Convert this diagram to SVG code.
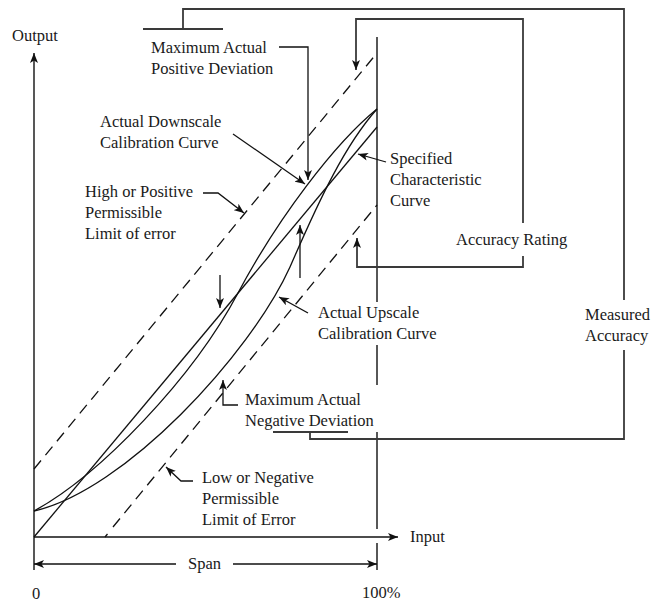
<svg xmlns="http://www.w3.org/2000/svg" width="652" height="602" viewBox="0 0 652 602">
  <defs>
    <style>
      text { font-family: "Liberation Serif", "Times New Roman", serif; font-size: 16.5px; fill: #1a1a1a; }
      .ax { stroke: #111; stroke-width: 1.4; fill: none; }
      .cv { stroke: #111; stroke-width: 1.3; fill: none; }
      .dash { stroke: #111; stroke-width: 1.3; fill: none; stroke-dasharray: 11 7; }
      .ld { stroke: #111; stroke-width: 1.3; fill: none; }
      .br { stroke: #3a3a3a; stroke-width: 1.8; fill: none; }
    </style>
    <marker id="ah" viewBox="0 0 10 8" refX="10" refY="4" markerWidth="10" markerHeight="8" orient="auto" markerUnits="userSpaceOnUse">
      <path d="M0,0 L10,4 L0,8 L2.5,4 z" fill="#111"/>
    </marker>
  </defs>
  <rect width="652" height="602" fill="#fff"/>

  <!-- calibration curves and limits -->
  <g id="curves">
    <path id="characteristic" class="cv" d="M34,537 L377,127"/>
    <path id="downscale" class="cv" d="M34,511 C100,475 193,378 238,293 C278,218 335,143 377,109"/>
    <path id="upscale" class="cv" d="M34,511 C124,491 250,355 290,267 C320,198 345,145 377,109"/>
    <path id="upper-limit" class="dash" d="M34,469 L377,53"/>
    <path id="lower-limit" class="dash" d="M113,527 L377,205"/>
    <path class="cv" d="M105,537 L107.5,534"/>
  </g>

  <g id="connectors">
    <!-- axes -->
    <path class="ax" d="M34,570 L34,53" marker-end="url(#ah)"/>
    <path class="ax" d="M34,537 L398,537" marker-end="url(#ah)"/>
    <path class="ax" d="M377,37 V302 M377,345 V385 M377,432 V529 M377,543 V570"/>
    <!-- span -->
    <path class="ax" d="M176,564 H34" marker-end="url(#ah)"/>
    <path class="ax" d="M233,564 H377" marker-end="url(#ah)"/>

    <!-- measured accuracy bracket -->
    <path class="br" d="M143,29 H223 M183,29 V9 H624 V300 M624,350 V439 H310 V432 M273,432 H348"/>
    <!-- accuracy rating bracket -->
    <path class="br" d="M523,223 V19 H356 V70" marker-end="url(#ah)"/>
    <path class="br" d="M523,256 V267 H357 V238" marker-end="url(#ah)"/>

    <!-- leaders -->
    <path class="ld" d="M279,47 H308 V180" marker-end="url(#ah)"/>
    <path class="ld" d="M233,134 L305,184" marker-end="url(#ah)"/>
    <path class="ld" d="M203,193 H218 L244,213" marker-end="url(#ah)"/>
    <path class="ld" d="M386,162 L358,154" marker-end="url(#ah)"/>
    <path class="ld" d="M308,313 L279,297" marker-end="url(#ah)"/>
    <path class="ld" d="M300,278 V225" marker-end="url(#ah)"/>
    <path class="ld" d="M220,275 V308" marker-end="url(#ah)"/>
    <path class="ld" d="M238,405 H223 V380" marker-end="url(#ah)"/>
    <path class="ld" d="M193,481 H181 L166,467" marker-end="url(#ah)"/>
  </g>

  <g id="output-label"><text x="12" y="41">Output</text></g>
  <g id="max-positive"><text x="151" y="53">Maximum Actual</text><text x="151" y="74">Positive Deviation</text></g>
  <g id="downscale-label"><text x="100" y="127">Actual Downscale</text><text x="100" y="148">Calibration Curve</text></g>
  <g id="high-limit"><text x="85" y="197">High or Positive</text><text x="85" y="218">Permissible</text><text x="85" y="239">Limit of error</text></g>
  <g id="specified"><text x="390" y="164">Specified</text><text x="390" y="185">Characteristic</text><text x="390" y="206">Curve</text></g>
  <g id="accuracy-rating"><text x="456" y="245">Accuracy Rating</text></g>
  <g id="upscale-label"><text x="318" y="318">Actual Upscale</text><text x="318" y="339">Calibration Curve</text></g>
  <g id="measured-accuracy"><text x="585" y="320">Measured</text><text x="585" y="341">Accuracy</text></g>
  <g id="max-negative"><text x="245" y="405">Maximum Actual</text><text x="245" y="426">Negative Deviation</text></g>
  <g id="low-limit"><text x="202" y="483">Low or Negative</text><text x="202" y="504">Permissible</text><text x="202" y="525">Limit of Error</text></g>
  <g id="input-label"><text x="410" y="542">Input</text></g>
  <g id="span-label"><text x="188" y="569">Span</text></g>
  <g id="zero-label"><text x="32" y="599">0</text></g>
  <g id="full-label"><text x="362" y="598">100%</text></g>
</svg>
